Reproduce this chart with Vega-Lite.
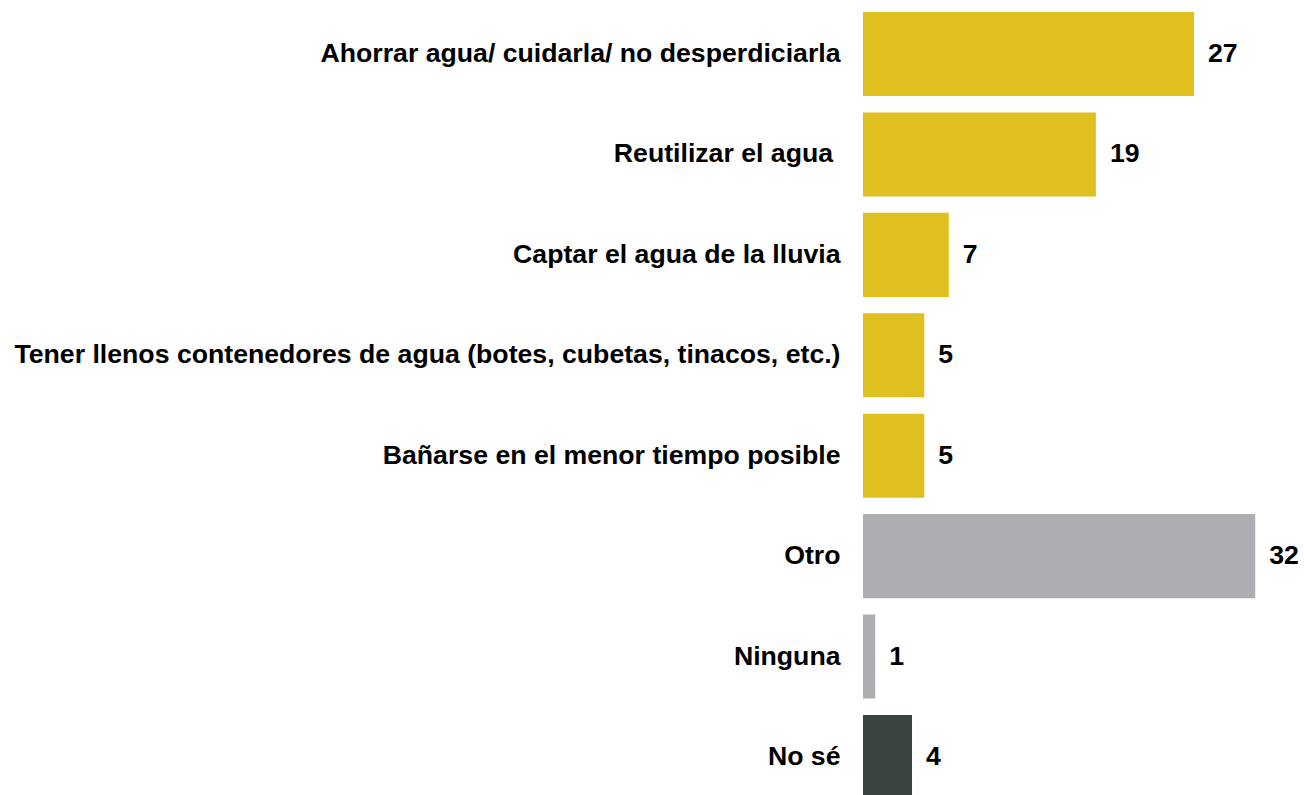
{
  "$schema": "https://vega.github.io/schema/vega-lite/v6.json",
  "autosize": {"type": "none"},
  "width": 429,
  "height": 787,
  "padding": {"left": 863, "top": 12, "right": 12, "bottom": 0},
  "background": "white",
  "config": {"view": {"stroke": null}, "font": "Liberation Sans"},
  "data": {
    "values": [
      {"label": "Ahorrar agua/ cuidarla/ no desperdiciarla", "value": 27, "group": "a"},
      {"label": "Reutilizar el agua \u200b", "value": 19, "group": "a"},
      {"label": "Captar el agua de la lluvia", "value": 7, "group": "a"},
      {"label": "Tener llenos contenedores de agua (botes, cubetas, tinacos, etc.)", "value": 5, "group": "a"},
      {"label": "Bañarse en el menor tiempo posible", "value": 5, "group": "a"},
      {"label": "Otro", "value": 32, "group": "b"},
      {"label": "Ninguna", "value": 1, "group": "b"},
      {"label": "No sé", "value": 4, "group": "c"}
    ]
  },
  "encoding": {
    "y": {
      "field": "label",
      "type": "nominal",
      "sort": null,
      "scale": {"paddingInner": 0.163, "paddingOuter": 0},
      "axis": {
        "title": null,
        "domain": false,
        "ticks": false,
        "labelPadding": 23,
        "labelFont": "Liberation Sans",
        "labelFontSize": 26.67,
        "labelFontWeight": "bold",
        "labelColor": "#000000",
        "labelLimit": 1000
      }
    },
    "x": {
      "field": "value",
      "type": "quantitative",
      "scale": {"domain": [0, 35], "nice": false},
      "axis": null
    }
  },
  "layer": [
    {
      "mark": {"type": "bar"},
      "encoding": {
        "color": {
          "field": "group",
          "type": "nominal",
          "scale": {"domain": ["a", "b", "c"], "range": ["#E0C020", "#AEADB2", "#3C4443"]},
          "legend": null
        }
      }
    },
    {
      "mark": {
        "type": "text",
        "align": "left",
        "baseline": "middle",
        "dx": 14,
        "font": "Liberation Sans",
        "fontSize": 26.67,
        "fontWeight": "bold",
        "color": "#000000"
      },
      "encoding": {
        "text": {"field": "value", "type": "quantitative"}
      }
    }
  ]
}
